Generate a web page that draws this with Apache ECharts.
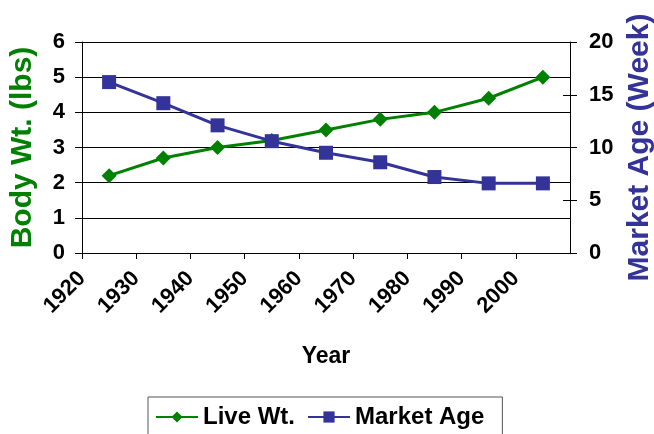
<!DOCTYPE html>
<html>
<head>
<meta charset="utf-8">
<script src="https://cdn.jsdelivr.net/npm/echarts@6/dist/echarts.min.js"></script>
<style>
  html, body { margin: 0; padding: 0; background: #fff; }
  #chart { width: 654px; height: 434px; }
</style>
</head>
<body>
<div id="chart"></div>
<script>
var years = [1925, 1935, 1945, 1955, 1965, 1975, 1985, 1995, 2005];
var liveWt = [2.2, 2.7, 3.0, 3.2, 3.5, 3.8, 4.0, 4.4, 5.0];
var marketAge = [16.2, 14.2, 12.1, 10.6, 9.5, 8.6, 7.2, 6.6, 6.6];

var green = '#008000';
var navy = '#333399';
var font = 'Liberation Sans, Arial, sans-serif';

function pairs(xs, ys) {
    var out = [];
    for (var i = 0; i < xs.length; i++) out.push([xs[i], ys[i]]);
    return out;
}

var chart = echarts.init(document.getElementById('chart'));
var option = {
    animation: false,
    textStyle: { fontFamily: font },
    grid: { left: 82, right: 84, top: 42, bottom: 181, containLabel: false, outerBoundsMode: 'none' },
    legend: {
        left: 148,
        top: 397,
        itemWidth: 42,
        itemHeight: 14,
        itemGap: 12,
        padding: [8, 18, 30, 7],
        borderColor: '#555',
        borderWidth: 1,
        textStyle: { fontSize: 24, fontWeight: 'bold', color: '#000', fontFamily: font },
        data: ['Live Wt.', 'Market Age']
    },
    xAxis: {
        type: 'value',
        min: 1920,
        max: 2010,
        interval: 10,
        name: 'Year',
        nameLocation: 'middle',
        nameGap: 92,
        nameTextStyle: { fontSize: 23, fontWeight: 'bold', color: '#000' },
        axisLine: { show: true, lineStyle: { color: '#000', width: 1 } },
        axisTick: { show: true, length: 6, lineStyle: { color: '#000' } },
        splitLine: { show: false },
        axisLabel: {
            rotate: 45,
            fontSize: 22,
            fontWeight: 'bold',
            color: '#000',
            margin: 22,
            padding: [46, 0, 0, 0],
            showMaxLabel: false,
            formatter: function (v) { return v < 2010 ? String(v) : ''; }
        }
    },
    yAxis: [
        {
            type: 'value',
            min: 0,
            max: 6,
            interval: 1,
            position: 'left',
            name: 'Body Wt. (lbs)',
            nameLocation: 'middle',
            nameGap: 44,
            nameTextStyle: { fontSize: 30, fontWeight: 'bold', color: green },
            axisLine: { show: true, lineStyle: { color: '#000', width: 1 } },
            axisTick: { show: true, length: 7, lineStyle: { color: '#000' } },
            splitLine: { show: true, lineStyle: { color: '#000', width: 1 } },
            axisLabel: { fontSize: 22, fontWeight: 'bold', color: '#000', margin: 17 }
        },
        {
            type: 'value',
            min: 0,
            max: 20,
            interval: 5,
            position: 'right',
            name: 'Market Age (Week)',
            nameLocation: 'middle',
            nameGap: 55,
            nameTextStyle: { fontSize: 30, fontWeight: 'bold', color: navy },
            axisLine: { show: true, lineStyle: { color: '#000', width: 1 } },
            axisTick: { show: true, length: 7, lineStyle: { color: '#000' } },
            splitLine: { show: false },
            axisLabel: { fontSize: 22, fontWeight: 'bold', color: '#000', margin: 19 }
        },
        {
            // inner half of the crossing ticks on the right axis
            type: 'value',
            min: 0,
            max: 20,
            interval: 5,
            position: 'right',
            offset: 0,
            axisLine: { show: false },
            axisTick: { show: true, inside: true, length: 7, lineStyle: { color: '#000' } },
            splitLine: { show: false },
            axisLabel: { show: false }
        }
    ],
    series: [
        {
            name: 'Live Wt.',
            type: 'line',
            yAxisIndex: 0,
            data: pairs(years, liveWt),
            symbol: 'diamond',
            symbolSize: 15,
            lineStyle: { color: green, width: 3 },
            itemStyle: { color: green },
            z: 3
        },
        {
            name: 'Market Age',
            type: 'line',
            yAxisIndex: 1,
            data: pairs(years, marketAge),
            symbol: 'rect',
            symbolSize: 14,
            lineStyle: { color: navy, width: 3 },
            itemStyle: { color: navy },
            z: 4
        }
    ]
};
chart.setOption(option);
</script>
</body>
</html>
